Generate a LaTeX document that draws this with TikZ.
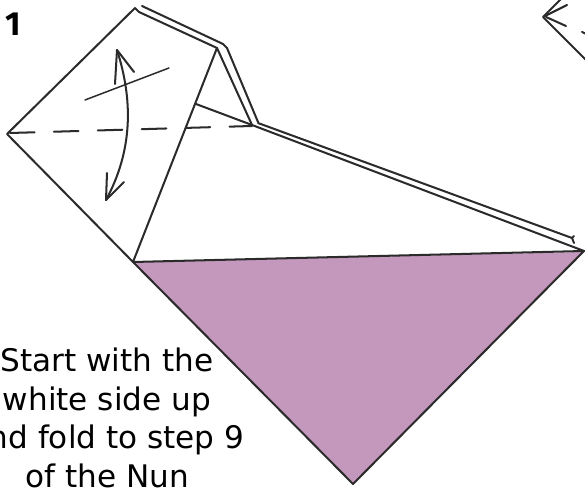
\documentclass[tikz,border=0pt]{standalone}
\usepackage{fontspec}
\setmainfont{DejaVu Sans}
\newfontfamily\stepfont{Fira Sans}
\definecolor{paperback}{HTML}{C497BC}
\definecolor{pencil}{HTML}{2B2B2B}
\tikzset{
  crease/.style={draw=pencil, line width=1.15pt, line cap=round, line join=round},
  thinfold/.style={draw=pencil, line width=0.85pt, line cap=round},
  caption/.style={align=center, font=\fontsize{17.7}{22}\selectfont, text=black}
}
\begin{document}
\begin{tikzpicture}[x=0.02cm, y=-0.02cm]
    \useasboundingbox (0,0) rectangle (585,489);
    \clip (0,0) rectangle (585,489);

    % Coloured side
    \fill[paperback] (133,262) -- (584,252) -- (353,484) -- cycle;
    \draw[crease] (133,262) -- (584,251) -- (353,484) -- cycle;

    % Outer edges of the flap
    \draw[crease] (135,8) -- (7,134) -- (133,262) -- (217,48);
    \draw[crease] (135,8) -- (139,12) -- (217,48) -- (252,125);
    \draw[crease] (142,6) -- (223,44) -- (227,48) -- (258,122);
    \draw[crease] (258,123) -- (572,238) (252,125) -- (584,251);
    \draw[crease] (572,238) -- (574,243) (572,238) -- (574,236);
    \draw[crease] (196,104) -- (252,125);

    % Valley fold
    \draw[crease, dash pattern=on 14pt off 11pt] (10,133) -- (252,126);

    % Fold and unfold arrow
    \draw[crease] (117,50) .. controls (133,100) and (133,150) .. (106,200);
    \draw[crease] (115,84) -- (117,50) -- (134,72);
    \draw[crease] (107,173) -- (106,200) -- (124,182);
    \draw[thinfold] (85,100) -- (169,68);

    % Next step, cut off by the page
    \draw[crease] (562,-2) -- (543,17) -- (590,64);
    \draw[crease] (567,5) -- (545,16);
    \draw[crease] (546,17) -- (566,26);
    \draw[crease] (582,32) -- (586,34);

    % Labels
    \node[font=\fontsize{19}{19}\selectfont\stepfont\bfseries, inner sep=0pt] (stepnum) at (13,24) {1};
    \node[caption] (startnote) at (107,418) {Start with the\\white side up\\and fold to step 9\\of the Nun};
\end{tikzpicture}
\end{document}
